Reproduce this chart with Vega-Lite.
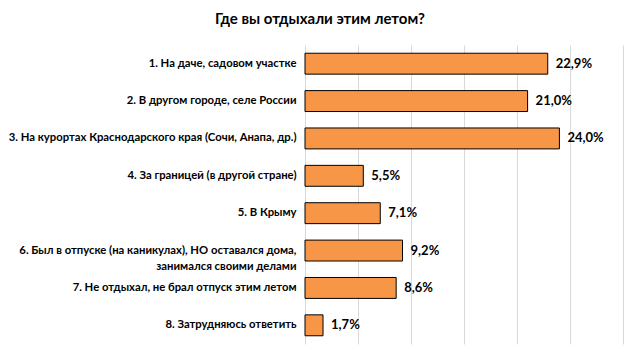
{
  "$schema": "https://vega.github.io/schema/vega-lite/v6.json",
  "width": 318,
  "height": 299,
  "padding": {"left": 5, "top": 12, "right": 16, "bottom": 18},
  "background": "white",
  "config": {
    "locale": {"number": {"decimal": ",", "thousands": " ", "grouping": [3], "currency": ["", ""]}},
    "font": "Lato",
    "view": {"stroke": null}
  },
  "title": {
    "text": "Где вы отдыхали этим летом?",
    "fontSize": 15,
    "fontWeight": "bold",
    "font": "Lato",
    "color": "#000000",
    "anchor": "middle",
    "frame": "bounds",
    "offset": 18,
    "dx": 6
  },
  "data": {
    "values": [
      {"label": "1. На даче, садовом участке", "value": 0.229},
      {"label": "2. В другом городе, селе России", "value": 0.21},
      {"label": "3. На курортах Краснодарского края (Сочи, Анапа, др.)", "value": 0.24},
      {"label": "4. За границей (в другой стране)", "value": 0.055},
      {"label": "5. В Крыму", "value": 0.071},
      {"label": "6. Был в отпуске (на каникулах), НО оставался дома,|занимался своими делами", "value": 0.092},
      {"label": "7. Не отдыхал, не брал отпуск этим летом", "value": 0.086},
      {"label": "8. Затрудняюсь ответить", "value": 0.017}
    ]
  },
  "encoding": {
    "y": {
      "field": "label",
      "type": "nominal",
      "sort": null,
      "scale": {"paddingInner": 0.44, "paddingOuter": 0.22},
      "axis": {
        "title": null,
        "domain": false,
        "ticks": false,
        "labelPadding": 9,
        "minExtent": 300,
        "maxExtent": 300,
        "labelLimit": 400,
        "labelFontSize": 11.3,
        "labelFontWeight": "bold",
        "labelColor": "#000000",
        "labelFont": "Lato",
        "labelLineHeight": 16,
        "labelExpr": "split(datum.label, '|')"
      }
    }
  },
  "layer": [
    {
      "mark": {"type": "bar", "fill": "#F79646", "stroke": "#000000", "strokeWidth": 1},
      "encoding": {
        "x": {
          "field": "value",
          "type": "quantitative",
          "scale": {"domain": [0, 0.3], "nice": false},
          "axis": {
            "title": null,
            "labels": false,
            "ticks": false,
            "domain": false,
            "grid": true,
            "gridColor": "#d9d9d9",
            "values": [0, 0.05, 0.1, 0.15, 0.2, 0.25, 0.3],
            "minExtent": 0,
            "maxExtent": 0
          }
        }
      }
    },
    {
      "mark": {"type": "text", "align": "left", "baseline": "middle", "dx": 8, "fontWeight": "bold", "fontSize": 13, "font": "Lato", "color": "#000000"},
      "encoding": {
        "x": {"field": "value", "type": "quantitative"},
        "text": {"field": "value", "type": "quantitative", "format": ".1%"}
      }
    }
  ]
}
